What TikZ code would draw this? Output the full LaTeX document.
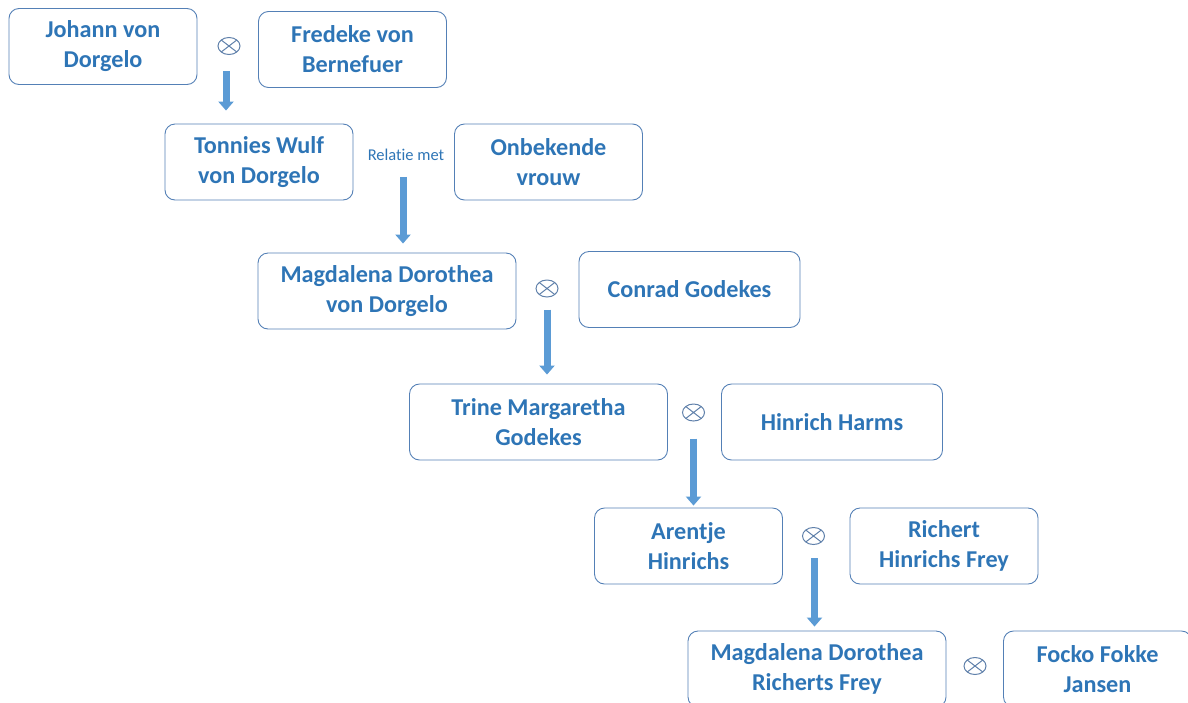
\documentclass[tikz,border=0pt]{standalone}
\usepackage{fontspec}
\setmainfont[Ligatures=NoCommon]{Carlito}
\usetikzlibrary{positioning, arrows.meta, shapes.geometric}
\definecolor{nameblue}{RGB}{46,117,182}
\definecolor{boxblue}{RGB}{84,128,182}
\definecolor{arrowblue}{RGB}{91,155,213}
\definecolor{crossgrey}{RGB}{95,128,170}

\begin{document}
\begin{tikzpicture}[x=1pt, y=-1pt,
   person/.style={rectangle,
          draw=boxblue,
          line width=0.9pt,
          rounded corners=10pt,
          minimum width=188pt,
          minimum height=76pt,
          align=center,
          text=nameblue,
          font=\fontsize{24.2}{30}\selectfont\bfseries},
   wide/.style={person, minimum width=258pt},
   midwide/.style={person, minimum width=221pt},
   marriage/.style={ellipse,
          draw=crossgrey,
          line width=1pt,
          minimum width=22pt,
          minimum height=17pt,
          inner sep=0pt,
          path picture={\draw[crossgrey, line width=1pt]
             (path picture bounding box.north west) -- (path picture bounding box.south east)
             (path picture bounding box.north east) -- (path picture bounding box.south west);}},
   descent/.style={draw=arrowblue, line width=7pt, -{Triangle[width=15pt, length=9pt]}}]

   \useasboundingbox (0,0) rectangle (1188,702);

   % generation 1
   \node[person] (johann) at (103,46.5) {Johann von\\Dorgelo};
   \node[person] (fredeke) at (352.5,49.5) {Fredeke von\\Bernefuer};
   \node[marriage] (m1) at (229,46) {};

   % generation 2
   \node[person] (tonnies) at (259,162) {Tonnies Wulf\\von Dorgelo};
   \node[person] (onbekend) at (548.5,162) {Onbekende\\vrouw};
   \node[text=nameblue, font=\fontsize{16.5}{19}\selectfont, inner sep=2pt] (relatie) at (406,155) {Relatie met};

   % generation 3
   \node[wide] (magdalena) at (387,291) {Magdalena Dorothea\\von Dorgelo};
   \node[midwide] (conrad) at (689.5,289.5) {Conrad Godekes};
   \node[marriage] (m3) at (547,288.5) {};

   % generation 4
   \node[wide] (trine) at (538.5,422) {Trine Margaretha\\Godekes};
   \node[midwide] (hinrich) at (832,422) {Hinrich Harms};
   \node[marriage] (m4) at (693.5,412.5) {};

   % generation 5
   \node[person] (arentje) at (688.5,546) {Arentje\\Hinrichs};
   \node[person] (richert) at (944,546) {Richert\\Hinrichs Frey};
   \node[marriage] (m5) at (813.5,536) {};

   % generation 6
   \node[wide] (magdalenafrey) at (817,669) {Magdalena Dorothea\\Richerts Frey};
   \node[person] (focko) at (1097.5,669) {Focko Fokke\\Jansen};
   \node[marriage] (m6) at (975,666) {};

   % descent arrows
   \draw[descent] ([xshift=-3pt, yshift=-16pt]m1.south) -- ([xshift=-3pt, yshift=13pt]m1.south |- tonnies.north);
   \draw[descent] ([xshift=-3pt, yshift=-14pt]relatie.south) -- ([xshift=-3pt, yshift=9pt]relatie.south |- magdalena.north);
   \draw[descent] ([yshift=-12pt]m3.south) -- ([yshift=9pt]m3.south |- trine.north);
   \draw[descent] ([yshift=-17pt]m4.south) -- ([yshift=2pt]m4.south |- arentje.north);
   \draw[descent] ([xshift=1pt, yshift=-13pt]m5.south) -- ([xshift=1pt, yshift=4pt]m5.south |- magdalenafrey.north);
\end{tikzpicture}
\end{document}
